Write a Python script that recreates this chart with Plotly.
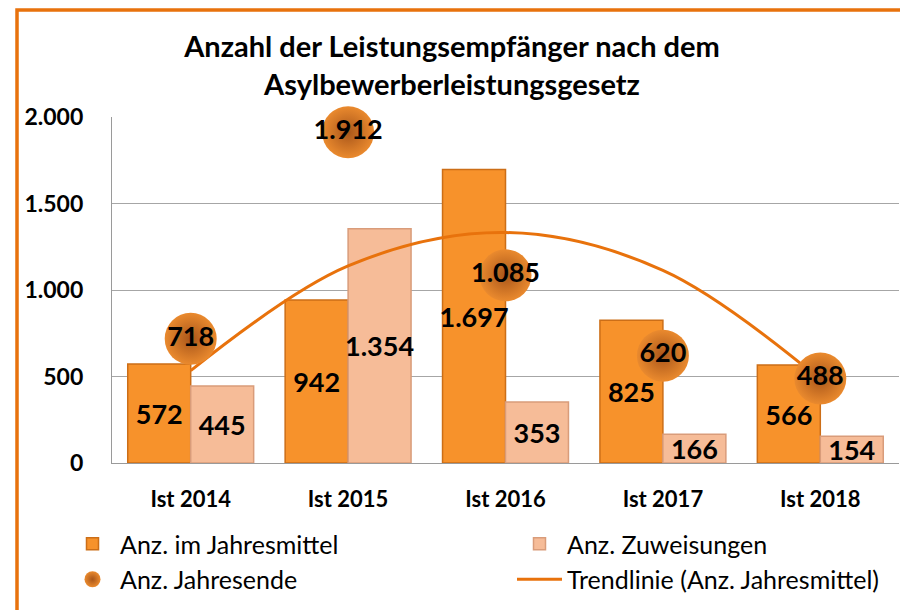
import plotly.graph_objects as go

categories = ["Ist 2014", "Ist 2015", "Ist 2016", "Ist 2017", "Ist 2018"]
jahresmittel = [572, 942, 1697, 825, 566]
zuweisungen = [445, 1354, 353, 166, 154]
jahresende = [718, 1912, 1085, 620, 488]
# trend line values (polynomial trend of Jahresmittel)
trend = [534, 1139, 1332, 1114, 483]
y_ticks = [0, 500, 1000, 1500, 2000]

FONT = "Lato, 'Open Sans', sans-serif"
LBL = dict(family=FONT, size=27, color="black", weight="bold")

W, H, OFF = 908, 610, 8  # page body margin offset


def cy(s):  # screen y -> container fraction
    return 1 - (s - OFF) / H


def cx(s):  # screen x -> container fraction
    return (s - OFF) / W


fig = go.Figure()

fig.add_trace(go.Bar(
    x=categories, y=jahresmittel, name="Anz. im Jahresmittel",
    marker=dict(color="#F7922B", line=dict(color="#CC6E17", width=1.5)),
    texttemplate="%{y:,}", textposition="inside", insidetextanchor="middle",
    textangle=0, textfont=LBL, cliponaxis=False, legend="legend",
))
fig.add_trace(go.Bar(
    x=categories, y=zuweisungen, name="Anz. Zuweisungen",
    marker=dict(color="#F6BC98", line=dict(color="#D99C7A", width=1.5)),
    texttemplate="%{y:,}", textposition="inside", insidetextanchor="middle",
    textangle=0, textfont=LBL, cliponaxis=False, legend="legend2",
))
fig.add_trace(go.Scatter(
    x=categories, y=trend, name="Trendlinie (Anz. Jahresmittel)",
    mode="lines", line=dict(color="#E8720C", width=3, shape="spline"),
    showlegend=False,
))
fig.add_trace(go.Scatter(
    x=categories, y=jahresende, name="Anz. Jahresende",
    mode="markers+text",
    marker=dict(size=52, color="#EA8A2E", line=dict(width=0),
                gradient=dict(type="radial", color="#A9561A")),
    text=[f"{v:,}".replace(",", ".") for v in jahresende],
    textposition="middle center", textfont=LBL,
    cliponaxis=False, legend="legend",
))
# legend entry for the trend line
fig.add_trace(go.Scatter(
    x=[None], y=[None], name="Trendlinie (Anz. Jahresmittel)",
    mode="lines", line=dict(color="#E8720C", width=3), legend="legend2",
))

legend_common = dict(
    orientation="v", xref="container", yref="container",
    xanchor="left", yanchor="top",
    font=dict(family=FONT, size=25, color="black"),
    traceorder="normal", itemwidth=45, bgcolor="rgba(0,0,0,0)",
    tracegroupgap=0,
)

# plot area in screen pixels: left 112, right 899, top 117, bottom 463
PL, PR, PT, PB = 112, 899, 117, 463

fig.update_layout(
    width=W, height=H,
    paper_bgcolor="white", plot_bgcolor="white",
    separators=",.",
    margin=dict(l=PL - OFF, r=W - (PR - OFF), t=PT - OFF, b=H - (PB - OFF),
                autoexpand=False),
    barmode="group", bargap=0.2, bargroupgap=0,
    uniformtext=dict(mode="show", minsize=27),
    font=dict(family=FONT, color="black"),
    title=dict(
        text="Anzahl der Leistungsempfänger nach dem<br>Asylbewerberleistungsgesetz",
        x=cx(452), xref="container", xanchor="center",
        y=cy(57), yref="container", yanchor="middle",
        font=dict(family=FONT, size=29, color="black", weight="bold"),
    ),
    showlegend=True,
    legend=dict(x=cx(65), y=cy(521), **legend_common),
    legend2=dict(x=cx(512), y=cy(521), **legend_common),
    shapes=[dict(
        type="rect", xref="paper", yref="paper",
        x0=(17 - PL) / (PR - PL), x1=(940 - PL) / (PR - PL),
        y0=(PB - 650) / (PB - PT), y1=(PB - 10) / (PB - PT),
        line=dict(color="#E8720C", width=3.5), layer="below",
    )],
)

fig.update_xaxes(
    type="category", showgrid=False, showline=True, linecolor="#9A9A9A", linewidth=1.2,
    ticks="", ticklabelstandoff=16,
    tickfont=dict(family=FONT, size=22, color="black", weight="bold"),
)
fig.update_yaxes(
    range=[0, 2000], tickvals=y_ticks, tickformat=",d",
    showgrid=True, gridcolor="#A6A6A6", gridwidth=1,
    showline=True, linecolor="#9A9A9A", linewidth=1.2,
    zeroline=False, ticks="", ticklabelstandoff=23,
    tickfont=dict(family=FONT, size=23, color="black", weight="bold"),
)

fig.write_html("out.html")
